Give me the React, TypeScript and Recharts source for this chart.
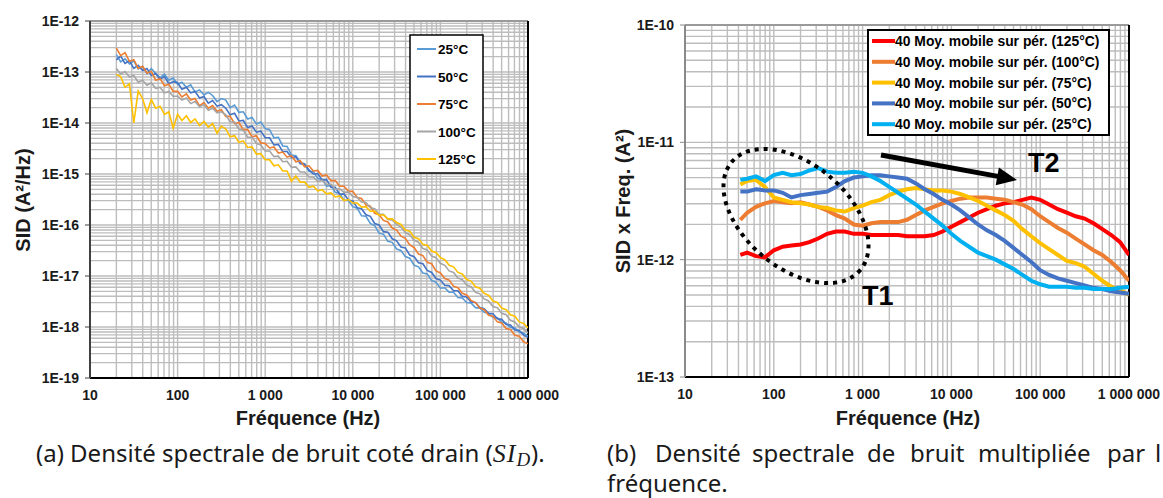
import React from 'react';
import { LineChart, Line, XAxis, YAxis, CartesianGrid, ReferenceLine } from 'recharts';

// ---------- Chart (a): SID vs frequency ----------
const freqA = [
  20, 22.4, 25.1, 28.2, 31.6, 35.5, 39.8, 44.7, 50.1, 56.2, 63.1, 70.8, 79.4, 89.1,
  100, 112, 126, 141, 158, 178, 200, 224, 251, 282, 316, 355, 398, 447, 501, 562, 631, 708, 794, 891,
  1000, 1122, 1259, 1413, 1585, 1778, 1995, 2239, 2512, 2818, 3162, 3548, 3981, 4467, 5012, 5623, 6310, 7079, 7943, 8913,
  10000, 11220, 12589, 14125, 15849, 17783, 19953, 22387, 25119, 28184, 31623, 35481, 39811, 44668, 50119, 56234, 63096, 70795, 79433, 89125,
  100000, 112202, 125893, 141254, 158489, 177828, 199526, 223872, 251189, 281838, 316228, 354813, 398107, 446684, 501187, 562341, 630957, 707946, 794328, 891251,
  1000000,
];
// log10 of SID (A²/Hz)
const sidExp25 = [
  -12.66, -12.80, -12.74, -12.84, -12.78, -12.94, -12.89, -13.03, -12.93, -13.03, -13.11, -13.04, -13.16, -13.12, -13.24,
  -13.20, -13.30, -13.25, -13.39, -13.35, -13.45, -13.40, -13.46, -13.58, -13.52,
  -13.55, -13.70, -13.65, -13.79, -13.78, -13.92, -13.89, -14.02, -13.98, -14.11,
  -14.13, -14.29, -14.28, -14.45, -14.46, -14.63, -14.64, -14.77, -14.80, -14.95,
  -14.95, -15.09, -15.10, -15.24, -15.22, -15.36, -15.38, -15.52, -15.52, -15.64,
  -15.67, -15.82, -15.83, -15.97, -16.01, -16.16, -16.18, -16.32, -16.34, -16.47,
  -16.50, -16.62, -16.65, -16.79, -16.82, -16.94, -16.96, -17.09, -17.12, -17.24,
  -17.23, -17.32, -17.32, -17.42, -17.43, -17.52, -17.53, -17.62, -17.63, -17.71,
  -17.73, -17.81, -17.82, -17.91, -17.92, -18.01, -18.02, -18.10, -18.12, -18.18,
];
const sidExp50 = [
  -12.76, -12.69, -12.83, -12.78, -12.93, -12.87, -12.97, -12.93, -13.07, -13.03, -13.14, -13.09, -13.23, -13.19, -13.21,
  -13.34, -13.30, -13.41, -13.38, -13.51, -13.48, -13.61, -13.56, -13.67, -13.64,
  -13.71, -13.84, -13.81, -13.96, -13.95, -14.09, -14.06, -14.18, -14.16, -14.29,
  -14.29, -14.43, -14.42, -14.56, -14.56, -14.68, -14.66, -14.80, -14.81, -14.92,
  -15.00, -14.99, -15.12, -15.11, -15.26, -15.26, -15.40, -15.39, -15.51, -15.53,
  -15.66, -15.68, -15.80, -15.83, -15.97, -16.00, -16.13, -16.14, -16.27, -16.31,
  -16.43, -16.45, -16.59, -16.62, -16.74, -16.76, -16.89, -16.93, -17.05, -17.08,
  -17.18, -17.19, -17.29, -17.29, -17.40, -17.41, -17.51, -17.52, -17.62, -17.64,
  -17.73, -17.74, -17.84, -17.85, -17.95, -17.96, -18.06, -18.07, -18.16, -18.20,
];
const sidExp75 = [
  -12.53, -12.68, -12.62, -12.79, -12.76, -12.93, -12.89, -13.02, -12.99, -13.16, -13.13, -13.27, -13.24, -13.38, -13.38,
  -13.49, -13.43, -13.55, -13.52, -13.66, -13.60, -13.71, -13.66, -13.77, -13.74,
  -13.87, -13.87, -14.01, -13.99, -14.13, -14.13, -14.27, -14.25, -14.39, -14.40,
  -14.49, -14.47, -14.59, -14.57, -14.67, -14.64, -14.76, -14.74, -14.86, -14.84,
  -14.94, -14.93, -15.04, -15.02, -15.13, -15.13, -15.24, -15.24, -15.34, -15.34,
  -15.46, -15.48, -15.61, -15.63, -15.77, -15.80, -15.91, -15.94, -16.06, -16.10,
  -16.22, -16.26, -16.39, -16.44, -16.57, -16.60, -16.73, -16.76, -16.90, -16.94,
  -17.05, -17.08, -17.20, -17.23, -17.34, -17.37, -17.48, -17.52, -17.63, -17.66,
  -17.77, -17.79, -17.90, -17.92, -18.03, -18.05, -18.16, -18.18, -18.29, -18.33,
];
const sidExp100 = [
  -12.93, -13.04, -12.99, -13.10, -13.07, -13.20, -13.16, -13.26, -13.21, -13.32, -13.30, -13.41, -13.38, -13.48, -13.47,
  -13.55, -13.51, -13.62, -13.58, -13.68, -13.64, -13.75, -13.71, -13.80, -13.78,
  -13.84, -13.98, -13.98, -14.12, -14.14, -14.28, -14.28, -14.40, -14.43, -14.55,
  -14.55, -14.66, -14.65, -14.76, -14.75, -14.87, -14.86, -14.96, -14.96, -15.06,
  -15.06, -15.15, -15.12, -15.21, -15.20, -15.30, -15.29, -15.36, -15.35, -15.44,
  -15.46, -15.55, -15.56, -15.66, -15.68, -15.79, -15.79, -15.89, -15.90, -15.99,
  -16.04, -16.15, -16.19, -16.30, -16.34, -16.46, -16.49, -16.61, -16.64, -16.75,
  -16.79, -16.90, -16.93, -17.04, -17.07, -17.18, -17.21, -17.32, -17.35, -17.45,
  -17.49, -17.60, -17.62, -17.73, -17.76, -17.87, -17.90, -18.00, -18.03, -18.12,
];
const sidExp125 = [
  -13.05, -13.09, -13.30, -13.23, -14.00, -13.37, -13.52, -13.80, -13.54, -13.71, -13.67, -13.83, -13.78, -14.10, -13.83,
  -13.95, -13.86, -13.99, -13.92, -14.05, -13.97, -14.08, -14.01, -14.20, -14.06,
  -14.12, -14.27, -14.25, -14.38, -14.35, -14.48, -14.47, -14.61, -14.60, -14.72,
  -14.72, -14.84, -14.82, -14.94, -14.94, -15.14, -15.04, -15.16, -15.16, -15.26,
  -15.24, -15.33, -15.31, -15.39, -15.37, -15.45, -15.43, -15.52, -15.50, -15.57,
  -15.57, -15.65, -15.64, -15.73, -15.73, -15.81, -15.80, -15.88, -15.88, -15.95,
  -15.99, -16.10, -16.12, -16.24, -16.27, -16.38, -16.40, -16.51, -16.54, -16.64,
  -16.68, -16.79, -16.82, -16.93, -16.96, -17.07, -17.10, -17.21, -17.24, -17.34,
  -17.38, -17.49, -17.52, -17.63, -17.66, -17.76, -17.79, -17.90, -17.93, -18.02,
];
const namesA = ['25°C', '50°C', '75°C', '100°C', '125°C'];
const colorsA = ['#5B9BD5', '#4472C4', '#ED7D31', '#A5A5A5', '#FFC000'];
const keysA = ['s25', 's50', 's75', 's100', 's125'];

// ---------- Chart (b): SID x f (40-point moving average) ----------
const freqB = [
  42, 50.1, 63.1, 79.4,
  100, 126, 158, 200, 251, 316, 398, 501, 631, 794,
  1000, 1259, 1585, 1995, 2512, 3162, 3981, 5012, 6310, 7943,
  10000, 12589, 15849, 19953, 25119, 31623, 39811, 50119, 63096, 79433,
  100000, 125893, 158489, 199526, 251189, 316228, 398107, 501187, 630957, 794328,
  1000000,
];
// log10 of SID x Freq. (A²)
const sfExp125 = [
  -11.96, -11.94, -11.97, -11.98,
  -11.92, -11.89, -11.88, -11.87, -11.85, -11.82, -11.78, -11.76, -11.76, -11.78,
  -11.78, -11.79, -11.79, -11.79, -11.79, -11.80, -11.80, -11.80, -11.79, -11.76,
  -11.72, -11.68, -11.64, -11.60, -11.57, -11.54, -11.52, -11.51, -11.49, -11.47,
  -11.49, -11.53, -11.57, -11.60, -11.63, -11.65, -11.69, -11.74, -11.79, -11.85,
  -11.96,
];
const sfExp100 = [
  -11.66, -11.60, -11.55, -11.52,
  -11.50, -11.51, -11.52, -11.51, -11.53, -11.55, -11.58, -11.62, -11.65, -11.70,
  -11.71, -11.69, -11.68, -11.68, -11.68, -11.66, -11.62, -11.58, -11.55, -11.52,
  -11.50, -11.48, -11.47, -11.47, -11.47, -11.48, -11.49, -11.51, -11.53, -11.57,
  -11.63, -11.68, -11.73, -11.77, -11.82, -11.87, -11.92, -11.96, -12.02, -12.09,
  -12.18,
];
const sfExp75 = [
  -11.36, -11.33, -11.32, -11.38,
  -11.47, -11.49, -11.51, -11.52, -11.53, -11.55, -11.56, -11.58, -11.59, -11.56,
  -11.54, -11.51, -11.49, -11.45, -11.42, -11.40, -11.39, -11.40, -11.41, -11.41,
  -11.42, -11.44, -11.47, -11.50, -11.54, -11.58, -11.62, -11.67, -11.74, -11.80,
  -11.86, -11.91, -11.96, -12.01, -12.03, -12.06, -12.12, -12.18, -12.23, -12.26,
  -12.30,
];
const sfExp50 = [
  -11.42, -11.42, -11.40, -11.41,
  -11.41, -11.43, -11.47, -11.45, -11.44, -11.43, -11.42, -11.38, -11.33, -11.30,
  -11.29, -11.28, -11.28, -11.29, -11.30, -11.31, -11.35, -11.40, -11.44, -11.49,
  -11.53, -11.58, -11.64, -11.70, -11.75, -11.79, -11.84, -11.90, -11.96, -12.02,
  -12.09, -12.13, -12.16, -12.18, -12.20, -12.22, -12.24, -12.25, -12.27, -12.28,
  -12.29,
];
const sfExp25 = [
  -11.32, -11.31, -11.29, -11.33,
  -11.28, -11.26, -11.28, -11.27, -11.24, -11.22, -11.25, -11.26, -11.26, -11.25,
  -11.26, -11.29, -11.33, -11.38, -11.43, -11.48, -11.53, -11.59, -11.65, -11.71,
  -11.78, -11.84, -11.89, -11.94, -11.97, -12.00, -12.04, -12.08, -12.13, -12.18,
  -12.21, -12.23, -12.23, -12.23, -12.24, -12.24, -12.25, -12.25, -12.25, -12.24,
  -12.23,
];
const namesB = [
  '40 Moy. mobile sur pér. (125°C)',
  '40 Moy. mobile sur pér. (100°C)',
  '40 Moy. mobile sur pér. (75°C)',
  '40 Moy. mobile sur pér. (50°C)',
  '40 Moy. mobile sur pér. (25°C)',
];
const colorsB = ['#FF0000', '#ED7D31', '#FFC000', '#4472C4', '#00B0F0'];
const keysB = ['m125', 'm100', 'm75', 'm50', 'm25'];

// ticks
const xTicks = [10, 100, 1000, 10000, 100000, 1000000];
const yTicksA = [1e-19, 1e-18, 1e-17, 1e-16, 1e-15, 1e-14, 1e-13, 1e-12];
const yTicksB = [1e-13, 1e-12, 1e-11, 1e-10];
const mantissas = [1, 2, 3, 4, 5, 6, 7, 8, 9];
const gridX = [10, 100, 1000, 10000, 100000].flatMap((d) => mantissas.map((m) => m * d)).concat([1000000]);
const gridYA = yTicksA.slice(0, -1).flatMap((d) => mantissas.map((m) => m * d)).concat([1e-12]);
const gridYB = yTicksB.slice(0, -1).flatMap((d) => mantissas.map((m) => m * d)).concat([1e-10]);

const dataA = freqA.map((f, i) => ({
  f,
  s25: Math.pow(10, sidExp25[i]),
  s50: Math.pow(10, sidExp50[i]),
  s75: Math.pow(10, sidExp75[i]),
  s100: Math.pow(10, sidExp100[i]),
  s125: Math.pow(10, sidExp125[i]),
}));
const dataB = freqB.map((f, i) => ({
  f,
  m125: Math.pow(10, sfExp125[i]),
  m100: Math.pow(10, sfExp100[i]),
  m75: Math.pow(10, sfExp75[i]),
  m50: Math.pow(10, sfExp50[i]),
  m25: Math.pow(10, sfExp25[i]),
}));

const FONT = "'Liberation Sans', Arial, sans-serif";
const CAP = "'Noto Sans', 'Open Sans', sans-serif";
const MATH = "'Liberation Serif', 'DejaVu Serif', serif";
const fmtX = (v: number) => String(Math.round(v)).replace(/\B(?=(\d{3})+(?!\d))/g, ' ');
const fmtY = (v: number) => '1E' + Math.round(Math.log10(v));
const tickStyle = { fontFamily: FONT, fontWeight: 700, fontSize: 14, fill: '#1a1a1a' };

export default function App() {
  return (
    <div style={{ position: 'absolute', left: 0, top: 0, width: 1163, height: 498, background: '#fff', overflow: 'hidden' }}>
      <div style={{ position: 'absolute', left: 0, top: 0 }}>
        <LineChart width={560} height={440} data={dataA} margin={{ top: 21, right: 32, bottom: 32, left: 0 }}>
          <CartesianGrid horizontalValues={gridYA} verticalValues={gridX} stroke="#BDBDBD" strokeWidth={1.4} />
          <XAxis dataKey="f" type="number" scale="log" domain={[10, 1000000]} ticks={xTicks} tickFormatter={fmtX}
            allowDataOverflow height={30} tickLine={false} tickMargin={6} tick={tickStyle}
            axisLine={{ stroke: '#000', strokeWidth: 2 }} interval={0} />
          <YAxis type="number" scale="log" domain={[1e-19, 1e-12]} ticks={yTicksA} tickFormatter={fmtY}
            allowDataOverflow width={90} tickSize={5} tickMargin={6} tick={tickStyle}
            axisLine={{ stroke: '#404040', strokeWidth: 2 }} tickLine={{ stroke: '#404040' }} interval={0} />
          <ReferenceLine y={1e-12} stroke="#9a9a9a" strokeWidth={2} />
          <ReferenceLine x={1000000} stroke="#000" strokeWidth={2} />
          {keysA.map((k, i) => (
            <Line key={k} dataKey={k} type="linear" stroke={colorsA[i]} strokeWidth={1.6} dot={false}
              activeDot={false} isAnimationActive={false} />
          ))}
        </LineChart>
      </div>
      <div style={{ position: 'absolute', left: 600, top: 0 }}>
        <LineChart width={560} height={440} data={dataB} margin={{ top: 25, right: 31, bottom: 33, left: 0 }}>
          <CartesianGrid horizontalValues={gridYB} verticalValues={gridX} stroke="#BDBDBD" strokeWidth={1.4} />
          <XAxis dataKey="f" type="number" scale="log" domain={[10, 1000000]} ticks={xTicks} tickFormatter={fmtX}
            allowDataOverflow height={30} tickLine={false} tickMargin={6} tick={tickStyle}
            axisLine={{ stroke: '#000', strokeWidth: 2 }} interval={0} />
          <YAxis type="number" scale="log" domain={[1e-13, 1e-10]} ticks={yTicksB} tickFormatter={fmtY}
            allowDataOverflow width={85} tickSize={5} tickMargin={6} tick={tickStyle}
            axisLine={{ stroke: '#8a8a8a', strokeWidth: 2 }} tickLine={{ stroke: '#8a8a8a' }} interval={0} />
          <ReferenceLine y={1e-10} stroke="#9a9a9a" strokeWidth={2} />
          <ReferenceLine x={1000000} stroke="#000" strokeWidth={2} />
          {keysB.map((k, i) => (
            <Line key={k} dataKey={k} type="linear" stroke={colorsB[i]} strokeWidth={4} dot={false}
              activeDot={false} isAnimationActive={false} />
          ))}
        </LineChart>
      </div>
      <svg width={1163} height={498} style={{ position: 'absolute', left: 0, top: 0, pointerEvents: 'none' }}>
        {/* axis titles */}
        <text transform="translate(30,200) rotate(-90)" textAnchor="middle" fontFamily={FONT} fontWeight={700} fontSize={20} fill="#1a1a1a">SID (A²/Hz)</text>
        <text x={308} y={425} textAnchor="middle" fontFamily={FONT} fontWeight={700} fontSize={20} fill="#1a1a1a">Fréquence (Hz)</text>
        <text transform="translate(630,201) rotate(-90)" textAnchor="middle" fontFamily={FONT} fontWeight={700} fontSize={20} fill="#1a1a1a">SID x Freq. (A²)</text>
        <text x={908} y={425} textAnchor="middle" fontFamily={FONT} fontWeight={700} fontSize={20} fill="#1a1a1a">Fréquence (Hz)</text>

        {/* legend (a) */}
        <rect x={410} y={35} width={73} height={138} fill="#fff" stroke="#000" strokeWidth={1.5} />
        {namesA.map((n, i) => (
          <g key={n}>
            <line x1={417} x2={436} y1={49 + i * 27.5} y2={49 + i * 27.5} stroke={colorsA[i]} strokeWidth={2} />
            <text x={438} y={49 + i * 27.5 + 5} fontFamily={FONT} fontWeight={700} fontSize={13.5} fill="#000">{n}</text>
          </g>
        ))}

        {/* legend (b) */}
        <rect x={868} y={30} width={241} height={105} fill="#fff" stroke="#000" strokeWidth={2} />
        {namesB.map((n, i) => (
          <g key={n}>
            <line x1={872} x2={895} y1={41 + i * 20.8} y2={41 + i * 20.8} stroke={colorsB[i]} strokeWidth={4} />
            <text x={895} y={41 + i * 20.8 + 5} fontFamily={FONT} fontWeight={700} fontSize={13.9} fill="#000">{n}</text>
          </g>
        ))}

        {/* annotations */}
        <ellipse cx={796} cy={216} rx={84} ry={52} transform="rotate(40 796 216)" fill="none" stroke="#000"
          strokeWidth={4} strokeDasharray="4 5" />
        <line x1={881} y1={155} x2={998} y2={176.4} stroke="#000" strokeWidth={5} />
        <polygon points="1017,180 995.7,185.3 998.9,167.5" fill="#000" />
        <text x={1028} y={172} fontFamily={FONT} fontWeight={700} fontSize={27} fill="#000">T2</text>
        <text x={862} y={305} fontFamily={FONT} fontWeight={700} fontSize={27} fill="#000">T1</text>

        {/* captions */}
        <text x={36} y={462} fontFamily={CAP} fontSize={24} fill="#1a1a1a">
          (a) Densité spectrale de bruit coté drain (
          <tspan fontFamily={MATH} fontStyle="italic" fontSize={26} letterSpacing={1}>SI</tspan>
          <tspan fontFamily={MATH} fontStyle="italic" fontSize={19} dy={4}>D</tspan>
          <tspan dy={-4} dx={1}>).</tspan>
        </text>
        <g fontFamily={CAP} fontSize={24} fill="#1a1a1a">
          <text x={607} y={462}>(b)</text>
          <text x={655} y={462}>Densité</text>
          <text x={752} y={462}>spectrale</text>
          <text x={867} y={462}>de</text>
          <text x={910} y={462}>bruit</text>
          <text x={978} y={462}>multipliée</text>
          <text x={1107} y={462}>par</text>
          <text x={1155} y={462}>l</text>
          <text x={607} y={492}>fréquence.</text>
        </g>
      </svg>
    </div>
  );
}
